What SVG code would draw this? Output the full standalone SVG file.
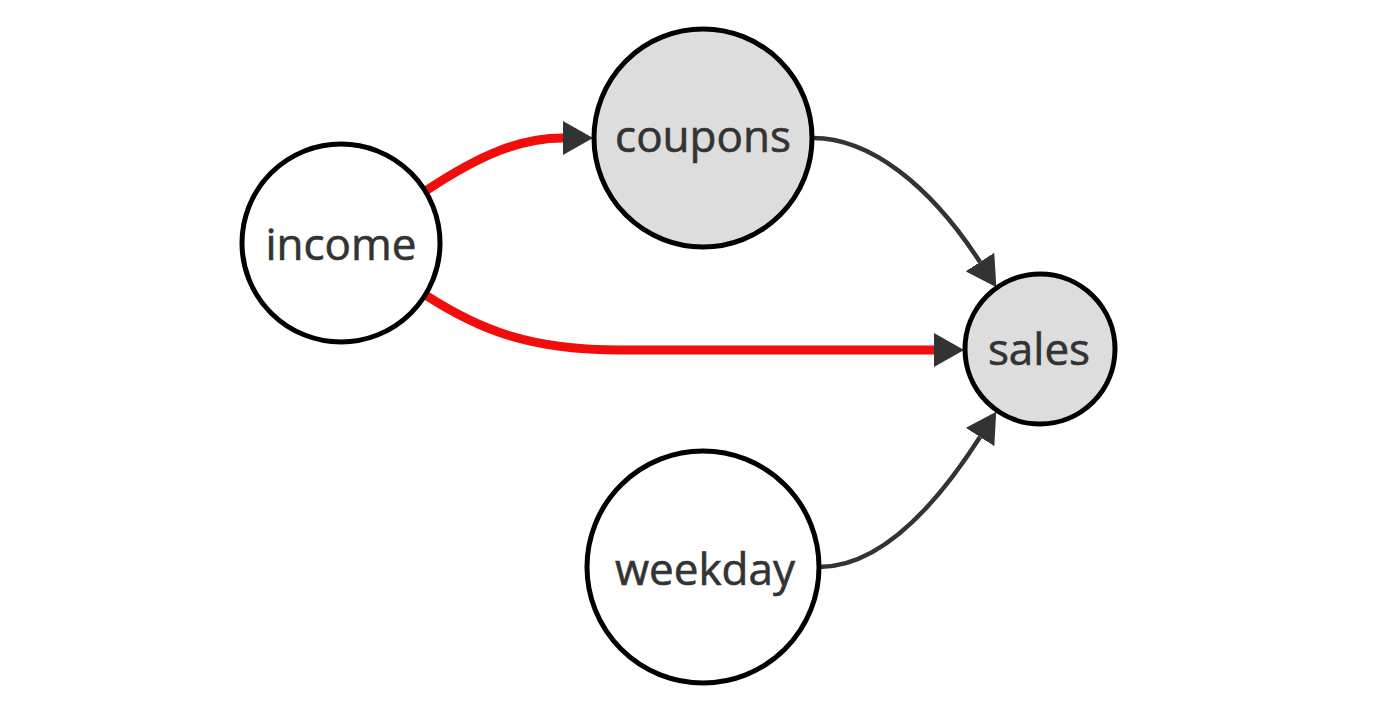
<svg xmlns="http://www.w3.org/2000/svg" width="1400" height="707" viewBox="0 0 1400 707">
<style>
.node circle{stroke:#000;stroke-width:5}
.plain{fill:#fff}
.obs{fill:#ddd}
.node text{font-family:"Open Sans","DejaVu Sans",sans-serif;font-size:44px;font-weight:500;fill:#333;stroke:#333;stroke-width:0.6;text-anchor:middle}
.edge{fill:none}
.red{stroke:#f20d0d;stroke-width:9}
.gray{stroke:#333;stroke-width:4.5}
</style>
<defs>
<marker id="arrow" markerUnits="userSpaceOnUse" viewBox="0 0 30 34" refX="0" refY="17" markerWidth="30" markerHeight="34" orient="auto">
<path d="M0,0 L30,17 L0,34 Z" fill="#333"/>
</marker>
</defs>
<rect width="1400" height="707" fill="#fff"/>
<g id="connectors">
<path class="edge red" d="M427,190 C480,155 520,138 563,138" marker-end="url(#arrow)"/>
<path class="edge red" d="M427,296 C480,330 530,350 620,350 L934,350" marker-end="url(#arrow)"/>
<path class="edge gray" d="M813,138 C870,138 930,185 980,262" marker-end="url(#arrow)"/>
<path class="edge gray" d="M819,567 C875,567 930,515 980,437" marker-end="url(#arrow)"/>
</g>
<g id="income" class="node">
<circle class="plain" cx="341" cy="243" r="99"/>
<text x="341" y="260">income</text>
</g>
<g id="coupons" class="node">
<circle class="obs" cx="703" cy="138" r="109"/>
<text x="703" y="152">coupons</text>
</g>
<g id="sales" class="node">
<circle class="obs" cx="1040" cy="349" r="75"/>
<text x="1039" y="365">sales</text>
</g>
<g id="weekday" class="node">
<circle class="plain" cx="703" cy="567" r="116"/>
<text x="705" y="585">weekday</text>
</g>
</svg>
